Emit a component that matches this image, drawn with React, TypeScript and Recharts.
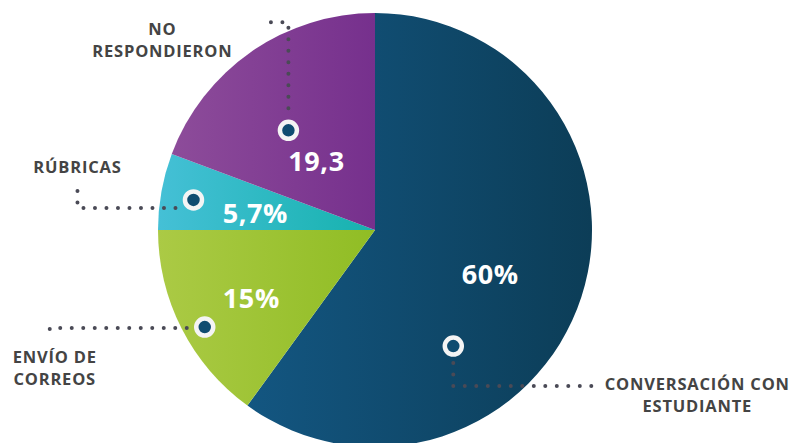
import React from "react";
import { PieChart, Pie, Cell } from "recharts";

const CATEGORIES = [
    ["CONVERSACIÓN CON", "ESTUDIANTE"],
    ["ENVÍO DE", "CORREOS"],
    ["RÚBRICAS"],
    ["NO", "RESPONDIERON"],
];
const VALUES = [60, 15, 5.7, 19.3];
const VALUE_LABELS = ["60%", "15%", "5,7%", "19,3"];

const GRADIENTS = [
    ["#135681", "#0c3d57"],
    ["#abca45", "#90bd24"],
    ["#45c0d6", "#16b2ae"],
    ["#8d4c9a", "#76308d"],
];

// annotation layout: polar offsets from slice mid angle, leader/text relative to marker
const LAYOUT = [
    { vA: -2.5, vR: 123, mA: -38, mR: 140, leader: [[0, 17], [0, 40], [147, 40]], tx: 244, ty: 44 },
    { vA: 1.7, vR: 141, mA: 2.7, mR: 196, leader: [[-18, 1], [-155, 1], [-155, 10]], tx: -150, ty: 36 },
    { vA: 1.75, vR: 121, mA: 0.85, mR: 184, leader: [[-18, 8], [-116, 8], [-116, -17]], tx: -116, ty: -27 },
    { vA: 5.25, vR: 91, mA: 6.25, mR: 132, leader: [[0, -22], [0, -108], [-23, -108]], tx: -126, ty: -95 },
];

const data = VALUES.map((value, i) => ({ name: CATEGORIES[i].join(" "), value }));

const RAD = Math.PI / 180;
const polar = (cx: number, cy: number, r: number, a: number) => ({
    x: cx + Math.cos(-a * RAD) * r,
    y: cy + Math.sin(-a * RAD) * r,
});

const FONT = "'Open Sans', sans-serif";

const renderLabel = (props: any) => {
    const { cx, cy, midAngle, index } = props;
    const lay = LAYOUT[index];
    const v = polar(cx, cy, lay.vR, midAngle + lay.vA);
    const m = polar(cx, cy, lay.mR, midAngle + lay.mA);
    const d = lay.leader
        .map(([dx, dy], k) => `${k === 0 ? "M" : "L"}${m.x + dx},${m.y + dy}`)
        .join(" ");
    return (
        <g key={`lbl-${index}`}>
            <path
                d={d}
                fill="none"
                stroke="#4a4a56"
                strokeWidth={4}
                strokeLinecap="round"
                strokeDasharray="0 11.5"
            />
            <circle cx={m.x} cy={m.y} r={8.5} fill="#0f4c70" stroke="#f4f4f4" strokeWidth={4.5} />
            <text
                x={v.x}
                y={v.y}
                fill="#ffffff"
                textAnchor="middle"
                dominantBaseline="central"
                fontFamily={FONT}
                fontWeight={700}
                fontSize={27}
                letterSpacing={0.6}
            >
                {VALUE_LABELS[index]}
            </text>
            <text
                x={m.x + lay.tx}
                y={m.y + lay.ty}
                fill="#444444"
                textAnchor="middle"
                fontFamily={FONT}
                fontWeight={700}
                fontSize={16.5}
                letterSpacing={0.8}
            >
                {CATEGORIES[index].map((line, k) => (
                    <tspan key={k} x={m.x + lay.tx} dy={k === 0 ? 0 : 21.5}>
                        {line}
                    </tspan>
                ))}
            </text>
        </g>
    );
};

export default function App() {
    return (
        <div style={{ position: "absolute", left: 0, top: 0, width: 791, height: 443, background: "#fff" }}>
            <PieChart width={791} height={443} margin={{ top: 0, right: 0, bottom: 0, left: 0 }}>
                <defs>
                    {GRADIENTS.map(([a, b], i) => (
                        <linearGradient key={i} id={`g${i}`} x1="0" y1="0" x2="1" y2="0">
                            <stop offset="0%" stopColor={a} />
                            <stop offset="100%" stopColor={b} />
                        </linearGradient>
                    ))}
                </defs>
                <Pie
                    data={data}
                    dataKey="value"
                    cx={375}
                    cy={230}
                    outerRadius={217}
                    startAngle={90}
                    endAngle={-270}
                    stroke="none"
                    label={renderLabel}
                    labelLine={false}
                    isAnimationActive={false}
                >
                    {data.map((_, i) => (
                        <Cell key={i} fill={`url(#g${i})`} />
                    ))}
                </Pie>
            </PieChart>
        </div>
    );
}
